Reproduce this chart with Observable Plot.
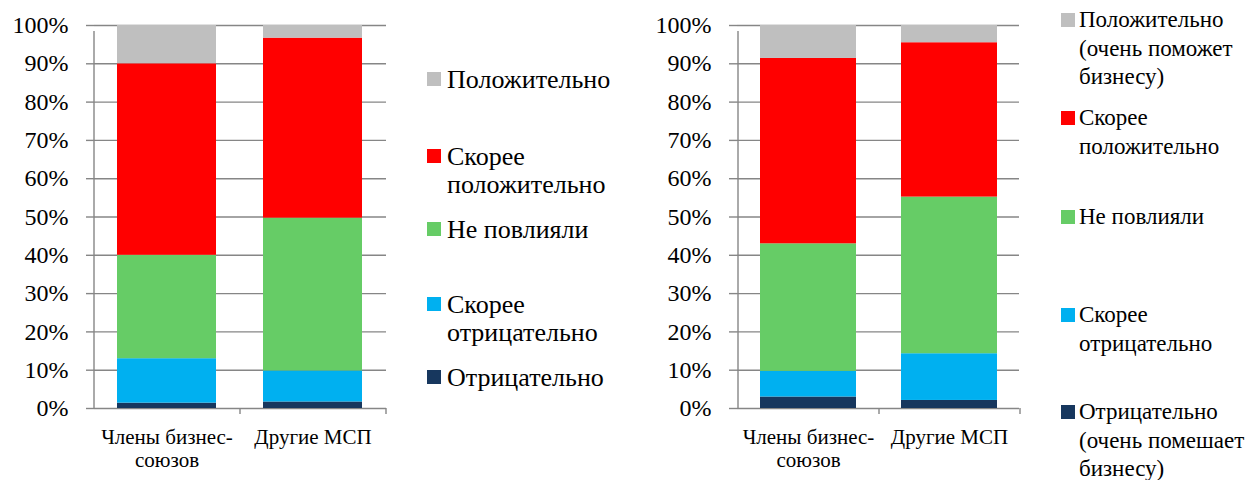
<!DOCTYPE html>
<html>
<head>
<meta charset="utf-8">
<script src="https://cdn.jsdelivr.net/npm/d3@7"></script>
<script src="https://cdn.jsdelivr.net/npm/@observablehq/plot@0.6"></script>
<style>
  html, body { margin: 0; padding: 0; background: #fff; }
  #root { position: relative; width: 1254px; height: 480px; overflow: hidden; font-family: "Liberation Serif", "Times New Roman", serif; }
  .chart { position: absolute; top: 0; }
  .leg { position: absolute; color: #000; white-space: pre; font-family: "Liberation Serif", "Times New Roman", serif; }
  .leg .sw { position: absolute; width: 14px; height: 14px; }
</style>
</head>
<body>
<div id="root"></div>
<script>
// Categories and tick labels
const categories = ["Члены бизнес-союзов", "Другие МСП"];
const xTickLabels = ["Члены бизнес-\nсоюзов", "Другие МСП"];
const yTicks = [0, 10, 20, 30, 40, 50, 60, 70, 80, 90, 100];

// Series (bottom to top of stack)
const series = ["Отрицательно", "Скорее отрицательно", "Не повлияли", "Скорее положительно", "Положительно"];
const seriesColors = ["#17375e", "#00b0f0", "#66cc66", "#ff0000", "#bfbfbf"];

// Left chart values (%), per category
const leftNeg       = [1.4, 1.7];
const leftRatherNeg = [11.6, 8.1];
const leftNone      = [27.0, 39.9];
const leftRatherPos = [50.0, 47.0];
const leftPos       = [10.0, 3.3];

// Right chart values (%), per category
const rightNeg       = [3.0, 2.1];
const rightRatherNeg = [6.7, 12.2];
const rightNone      = [33.3, 40.9];
const rightRatherPos = [48.4, 40.3];
const rightPos       = [8.6, 4.5];

// Legend labels (top to bottom)
const leftLegend = [
  ["Положительно", "Положительно"],
  ["Скорее положительно", "Скорее\nположительно"],
  ["Не повлияли", "Не повлияли"],
  ["Скорее отрицательно", "Скорее\nотрицательно"],
  ["Отрицательно", "Отрицательно"]
];
const rightLegend = [
  ["Положительно", "Положительно\n(очень поможет\nбизнесу)"],
  ["Скорее положительно", "Скорее\nположительно"],
  ["Не повлияли", "Не повлияли"],
  ["Скорее отрицательно", "Скорее\nотрицательно"],
  ["Отрицательно", "Отрицательно\n(очень помешает\nбизнесу)"]
];

function buildTable(arrs) {
  const rows = [];
  series.forEach((s, i) => {
    categories.forEach((c, j) => rows.push({category: c, series: s, value: arrs[i][j]}));
  });
  return rows;
}

const GRID = "#868686";

function makeChart(rows, opts) {
  const {width, marginLeft, marginRight} = opts;
  const halfStep = (width - marginLeft - marginRight) / categories.length / 2;
  return Plot.plot({
    width, height: 480,
    marginLeft, marginRight, marginTop: 25, marginBottom: 72,
    style: {fontFamily: "'Liberation Serif', 'Times New Roman', serif", color: "#000", background: "#fff"},
    x: {domain: categories, paddingInner: 0.32, paddingOuter: 0.16, axis: null, label: null},
    y: {domain: [0, 100], axis: null, label: null},
    color: {domain: series, range: seriesColors},
    marks: [
      Plot.gridY(yTicks, {stroke: GRID, strokeOpacity: 1, strokeWidth: 1.4}),
      Plot.axisY(yTicks, {label: null, tickSize: 8, tickPadding: 18, stroke: GRID, strokeWidth: 1.4, fontSize: 24, tickFormat: d => d + "%", fill: "#000"}),
      Plot.barY(rows, Plot.stackY({x: "category", y: "value", fill: "series", z: "series", order: null})),
      Plot.ruleX([categories[0]], {x: d => d, dx: -halfStep, y1: 0, y2: 100, insetBottom: -6, stroke: GRID, strokeWidth: 1.4}),
      Plot.ruleX(categories, {x: d => d, dx: halfStep, y1: 0, y2: 0, insetBottom: -6, stroke: GRID, strokeWidth: 1.4}),
      Plot.axisX(categories, {label: null, tickSize: 0, tickPadding: 19, fontSize: 21, lineHeight: 1.1, fill: "#000",
        tickFormat: d => xTickLabels[categories.indexOf(d)]})
    ]
  });
}

const root = document.getElementById("root");

const c1 = makeChart(buildTable([leftNeg, leftRatherNeg, leftNone, leftRatherPos, leftPos]), {width: 400, marginLeft: 94, marginRight: 14});
const d1 = document.createElement("div"); d1.className = "chart"; d1.style.left = "0px"; d1.appendChild(c1); root.appendChild(d1);

const c2 = makeChart(buildTable([rightNeg, rightRatherNeg, rightNone, rightRatherPos, rightPos]), {width: 400, marginLeft: 97, marginRight: 21});
const d2 = document.createElement("div"); d2.className = "chart"; d2.style.left = "640px"; d2.appendChild(c2); root.appendChild(d2);

function legend(items, tops, left, fontSize, lineHeight, swLeft, swTop) {
  items.forEach(([key, label], i) => {
    const el = document.createElement("div");
    el.className = "leg";
    el.style.left = left + "px";
    el.style.top = tops[i] + "px";
    el.style.fontSize = fontSize + "px";
    el.style.lineHeight = lineHeight + "px";
    el.textContent = label;
    const sw = document.createElement("div");
    sw.className = "sw";
    sw.style.left = swLeft + "px";
    sw.style.top = swTop + "px";
    sw.style.background = seriesColors[series.indexOf(key)];
    el.appendChild(sw);
    root.appendChild(el);
  });
}
legend(leftLegend, [66, 143, 216, 291, 364], 447, 26, 28, -20, 6);
legend(rightLegend, [6, 104, 203, 301, 398], 1079, 23, 28.5, -18, 7);
</script>
</body>
</html>
